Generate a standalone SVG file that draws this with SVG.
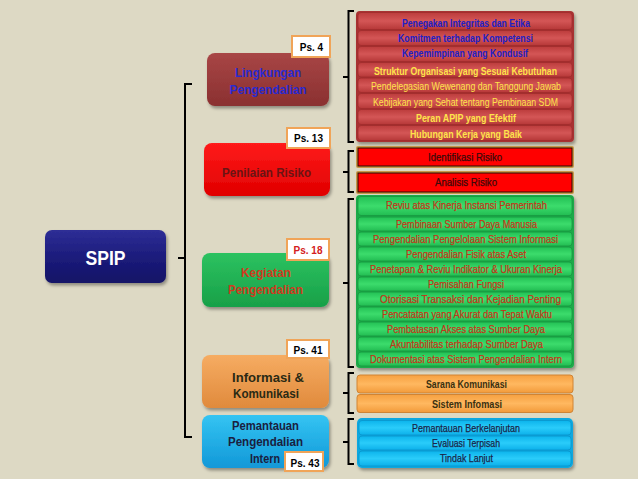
<svg xmlns="http://www.w3.org/2000/svg" width="638" height="479" viewBox="0 0 638 479">
<defs>
<linearGradient id="gSpip" x1="0" y1="0" x2="0" y2="1"><stop offset="0" stop-color="#2E2E96"/><stop offset="0.5" stop-color="#1C1C7C"/><stop offset="1" stop-color="#121266"/></linearGradient>
<linearGradient id="gLing" x1="0" y1="0" x2="0" y2="1"><stop offset="0" stop-color="#A84646"/><stop offset="1" stop-color="#8A3030"/></linearGradient>
<linearGradient id="gRed" x1="0" y1="0" x2="0" y2="1"><stop offset="0" stop-color="#FF1A1A"/><stop offset="1" stop-color="#E00000"/></linearGradient>
<linearGradient id="gGreen" x1="0" y1="0" x2="0" y2="1"><stop offset="0" stop-color="#2CC260"/><stop offset="1" stop-color="#18A048"/></linearGradient>
<linearGradient id="gOrange" x1="0" y1="0" x2="0" y2="1"><stop offset="0" stop-color="#F6AC62"/><stop offset="1" stop-color="#E08A3C"/></linearGradient>
<linearGradient id="gBlue" x1="0" y1="0" x2="0" y2="1"><stop offset="0" stop-color="#34C4F2"/><stop offset="1" stop-color="#1298D8"/></linearGradient>
<linearGradient id="gRedRow" x1="0" y1="0" x2="0" y2="1"><stop offset="0" stop-color="#BC3C3C"/><stop offset="0.5" stop-color="#D45656"/><stop offset="1" stop-color="#B63838"/></linearGradient>
<linearGradient id="gGreenRow" x1="0" y1="0" x2="0" y2="1"><stop offset="0" stop-color="#22C054"/><stop offset="0.5" stop-color="#3CDC6C"/><stop offset="1" stop-color="#22BC52"/></linearGradient>
<linearGradient id="gOrangeRow" x1="0" y1="0" x2="0" y2="1"><stop offset="0" stop-color="#F6A040"/><stop offset="0.5" stop-color="#FFB860"/><stop offset="1" stop-color="#F29A3A"/></linearGradient>
<linearGradient id="gBlueRow" x1="0" y1="0" x2="0" y2="1"><stop offset="0" stop-color="#0CB4EC"/><stop offset="0.5" stop-color="#2ACCFA"/><stop offset="1" stop-color="#0CB0EA"/></linearGradient>
<filter id="sh" x="-10%" y="-10%" width="130%" height="140%"><feDropShadow dx="1.5" dy="2.5" stdDeviation="1.5" flood-color="#000" flood-opacity="0.35"/></filter>
</defs>
<style>
.nt{font-family:"Liberation Sans",Arial,sans-serif;font-weight:bold;font-size:12.5px;text-anchor:middle}
.it{font-family:"Liberation Sans",Arial,sans-serif;font-size:11px;text-anchor:middle}
.b{font-weight:bold}
.m{stroke-width:0.25px}
.ps{fill:#FFFFFF;stroke:#F0A458;stroke-width:2}
.pst{font-family:"Liberation Sans",Arial,sans-serif;font-weight:bold;font-size:10px;text-anchor:middle;fill:#000}
.br{fill:none;stroke:#000;stroke-width:2}
.rr{fill:url(#gRedRow);stroke:#A02C2C;stroke-width:0.8}
.gr{fill:url(#gGreenRow);stroke:#169840;stroke-width:0.8}
.orr{fill:url(#gOrangeRow);stroke:#D08434;stroke-width:1}
.blr{fill:url(#gBlueRow);stroke:#0A94CC;stroke-width:0.8}
.blue{fill:#2020C4}
.yel{fill:#FFE44A}
.grt{fill:#C2361A;stroke:#C2361A}
.rkt{fill:#3A0A0A;stroke:#3A0A0A}
.bkt{fill:#1A2448;stroke:#1A2448}
</style>
<rect width="638" height="479" fill="#DDD9C4"/>

<g id="connectors">
<path class="br" d="M192,84 H185 V437 H192 M178,258 H185"/>
<path class="br" d="M354,11 H348.5 V142 H354 M343,77 H348.5"/>
<path class="br" d="M354,151 H348.5 V192 H354 M343,172 H348.5"/>
<path class="br" d="M354,199 H348.5 V367 H354 M343,283 H348.5"/>
<path class="br" d="M354,373 H348.5 V413 H354 M343,393 H348.5"/>
<path class="br" d="M354,419 H348.5 V464 H354 M343,442 H348.5"/>
</g>

<g id="spip">
<rect x="45" y="230" width="121" height="53" rx="7" fill="url(#gSpip)" filter="url(#sh)"/>
<text x="105.5" y="265" font-family="Liberation Sans,Arial,sans-serif" font-weight="bold" font-size="21" fill="#FFFFFF" text-anchor="middle" textLength="40" lengthAdjust="spacingAndGlyphs">SPIP</text>
</g>

<g id="lingkungan">
<rect x="207" y="53" width="122" height="53" rx="8" fill="url(#gLing)" filter="url(#sh)"/>
<text class="nt" x="268" y="77" fill="#2A2AD0" textLength="66" lengthAdjust="spacingAndGlyphs">Lingkungan</text>
<text class="nt" x="268" y="94" fill="#2A2AD0" textLength="77" lengthAdjust="spacingAndGlyphs">Pengendalian</text>
<rect class="ps" x="292" y="36" width="38" height="21"/>
<text class="pst" x="311.5" y="51">Ps. 4</text>
</g>

<g id="penilaian">
<rect x="204" y="143" width="126" height="53" rx="8" fill="url(#gRed)" filter="url(#sh)"/>
<text class="nt" x="266.5" y="176.5" fill="#6A1414" textLength="89" lengthAdjust="spacingAndGlyphs">Penilaian Risiko</text>
<rect class="ps" x="287" y="128" width="43" height="20"/>
<text class="pst" x="308.5" y="142">Ps. 13</text>
</g>

<g id="kegiatan">
<rect x="202" y="253" width="127" height="54" rx="8" fill="url(#gGreen)" filter="url(#sh)"/>
<text class="nt" x="266" y="277" fill="#D03A20" textLength="50" lengthAdjust="spacingAndGlyphs">Kegiatan</text>
<text class="nt" x="265.5" y="293.5" fill="#D03A20" textLength="75" lengthAdjust="spacingAndGlyphs">Pengendalian</text>
<rect class="ps" x="287" y="239" width="42" height="21"/>
<text class="pst" x="308" y="254" style="fill:#D42020">Ps. 18</text>
</g>

<g id="informasi">
<rect x="202" y="355" width="127" height="53" rx="8" fill="url(#gOrange)" filter="url(#sh)"/>
<text class="nt" x="268" y="382" fill="#2A2A14" textLength="72" lengthAdjust="spacingAndGlyphs">Informasi &amp;</text>
<text class="nt" x="266" y="398" fill="#2A2A14" textLength="66" lengthAdjust="spacingAndGlyphs">Komunikasi</text>
<rect class="ps" x="287" y="340" width="42" height="18"/>
<text class="pst" x="308" y="353.5">Ps. 41</text>
</g>

<g id="pemantauan">
<rect x="202" y="415" width="127" height="53" rx="8" fill="url(#gBlue)" filter="url(#sh)"/>
<text class="nt" x="265.5" y="429.5" fill="#1A2040" textLength="67" lengthAdjust="spacingAndGlyphs">Pemantauan</text>
<text class="nt" x="265.5" y="446" fill="#1A2040" textLength="75" lengthAdjust="spacingAndGlyphs">Pengendalian</text>
<text class="nt" x="265" y="462.5" fill="#1A2040" textLength="30" lengthAdjust="spacingAndGlyphs">Intern</text>
<rect class="ps" x="285" y="452" width="38" height="19"/>
<text class="pst" x="305" y="466.5">Ps. 43</text>
</g>

<g id="lingkungan-items">
<rect x="356" y="11" width="218" height="131" rx="4" fill="#A83232" filter="url(#sh)"/>
<rect class="rr" x="358" y="12.5" width="214" height="17" rx="3"/>
<rect class="rr" x="358" y="30.5" width="214" height="15" rx="3"/>
<rect class="rr" x="358" y="46.5" width="214" height="15" rx="3"/>
<rect class="rr" x="358" y="62.5" width="214" height="14.5" rx="3"/>
<rect class="rr" x="358" y="78" width="214" height="14.5" rx="3"/>
<rect class="rr" x="358" y="93.5" width="214" height="15" rx="3"/>
<rect class="rr" x="358" y="109.5" width="214" height="15" rx="3"/>
<rect class="rr" x="358" y="125.5" width="214" height="15" rx="3"/>
<text class="it b blue" x="466" y="26.5" textLength="128" lengthAdjust="spacingAndGlyphs">Penegakan Integritas dan Etika</text>
<text class="it b blue" x="465.5" y="42.3" textLength="135" lengthAdjust="spacingAndGlyphs">Komitmen terhadap Kompetensi</text>
<text class="it b blue" x="465" y="57.3" textLength="126" lengthAdjust="spacingAndGlyphs">Kepemimpinan yang Kondusif</text>
<text class="it b yel" x="465.5" y="74.5" textLength="183" lengthAdjust="spacingAndGlyphs">Struktur Organisasi yang Sesuai Kebutuhan</text>
<text class="it yel" x="466" y="90" textLength="190" lengthAdjust="spacingAndGlyphs">Pendelegasian Wewenang dan Tanggung Jawab</text>
<text class="it yel" x="465.5" y="106" textLength="185" lengthAdjust="spacingAndGlyphs">Kebijakan yang Sehat tentang Pembinaan SDM</text>
<text class="it b yel" x="466" y="121.5" textLength="100" lengthAdjust="spacingAndGlyphs">Peran APIP yang Efektif</text>
<text class="it b yel" x="466" y="138" textLength="112" lengthAdjust="spacingAndGlyphs">Hubungan Kerja yang Baik</text>
</g>

<g id="penilaian-items">
<rect x="356" y="146" width="218" height="22" rx="2" fill="#C89848"/>
<rect x="358" y="148" width="214" height="18" fill="#FF0000" stroke="#2A0A00" stroke-width="1"/>
<text class="it m rkt" x="465" y="161" textLength="74" lengthAdjust="spacingAndGlyphs">Identifikasi Risiko</text>
<rect x="356" y="171" width="218" height="23" rx="2" fill="#C89848"/>
<rect x="358" y="173" width="214" height="19" fill="#FF0000" stroke="#2A0A00" stroke-width="1"/>
<text class="it m rkt" x="466" y="186" textLength="62" lengthAdjust="spacingAndGlyphs">Analisis Risiko</text>
</g>

<g id="kegiatan-items">
<rect x="356" y="195" width="218" height="173" rx="4" fill="#1EAA48" filter="url(#sh)"/>
<rect class="gr" x="358" y="196.5" width="214" height="19" rx="3"/>
<rect class="gr" x="358" y="217" width="214" height="14" rx="3"/>
<rect class="gr" x="358" y="232" width="214" height="14" rx="3"/>
<rect class="gr" x="358" y="247" width="214" height="14" rx="3"/>
<rect class="gr" x="358" y="262" width="214" height="14" rx="3"/>
<rect class="gr" x="358" y="277" width="214" height="14" rx="3"/>
<rect class="gr" x="358" y="292" width="214" height="14" rx="3"/>
<rect class="gr" x="358" y="307" width="214" height="14" rx="3"/>
<rect class="gr" x="358" y="322" width="214" height="14" rx="3"/>
<rect class="gr" x="358" y="337" width="214" height="14" rx="3"/>
<rect class="gr" x="358" y="352" width="214" height="14" rx="3"/>
<text class="it m grt" x="466.5" y="209" textLength="161" lengthAdjust="spacingAndGlyphs">Reviu atas Kinerja Instansi Pemerintah</text>
<text class="it m grt" x="466.5" y="227.8" textLength="141" lengthAdjust="spacingAndGlyphs">Pembinaan Sumber Daya Manusia</text>
<text class="it m grt" x="465.5" y="242.8" textLength="185" lengthAdjust="spacingAndGlyphs">Pengendalian Pengelolaan Sistem  Informasi</text>
<text class="it m grt" x="466" y="257.8" textLength="120" lengthAdjust="spacingAndGlyphs">Pengendalian Fisik atas Aset</text>
<text class="it m grt" x="466" y="272.8" textLength="192" lengthAdjust="spacingAndGlyphs">Penetapan &amp; Reviu Indikator &amp; Ukuran Kinerja</text>
<text class="it m grt" x="466" y="287.8" textLength="76" lengthAdjust="spacingAndGlyphs">Pemisahan Fungsi</text>
<text class="it m grt" x="470.5" y="302.8" textLength="181" lengthAdjust="spacingAndGlyphs">Otorisasi Transaksi dan Kejadian Penting</text>
<text class="it m grt" x="467" y="317.8" textLength="170" lengthAdjust="spacingAndGlyphs">Pencatatan yang Akurat dan Tepat Waktu</text>
<text class="it m grt" x="466" y="332.8" textLength="158" lengthAdjust="spacingAndGlyphs">Pembatasan Akses atas Sumber Daya</text>
<text class="it m grt" x="466.5" y="347.8" textLength="153" lengthAdjust="spacingAndGlyphs">Akuntabilitas terhadap Sumber Daya</text>
<text class="it m grt" x="466" y="362.8" textLength="192" lengthAdjust="spacingAndGlyphs">Dokumentasi atas Sistem Pengendalian Intern</text>
</g>

<g id="informasi-items">
<rect class="orr" x="357" y="375" width="216" height="18" rx="3"/>
<rect class="orr" x="357" y="394.5" width="216" height="18" rx="3"/>
<text class="it b" x="466.5" y="388" fill="#3A3010" textLength="81" lengthAdjust="spacingAndGlyphs">Sarana Komunikasi</text>
<text class="it b" x="467" y="407.5" fill="#3A3010" textLength="70" lengthAdjust="spacingAndGlyphs">Sistem Infomasi</text>
</g>

<g id="pemantauan-items">
<rect x="357" y="418" width="216" height="50" rx="5" fill="#10A8E0" filter="url(#sh)"/>
<rect class="blr" x="359" y="420.5" width="212" height="14.5" rx="3"/>
<rect class="blr" x="359" y="436" width="212" height="14" rx="3"/>
<rect class="blr" x="359" y="451" width="212" height="15" rx="3"/>
<text class="it m bkt" x="466" y="432" textLength="108" lengthAdjust="spacingAndGlyphs">Pemantauan  Berkelanjutan</text>
<text class="it m bkt" x="466" y="447" textLength="68" lengthAdjust="spacingAndGlyphs">Evaluasi Terpisah</text>
<text class="it m bkt" x="466.5" y="462" textLength="53" lengthAdjust="spacingAndGlyphs">Tindak Lanjut</text>
</g>
</svg>
